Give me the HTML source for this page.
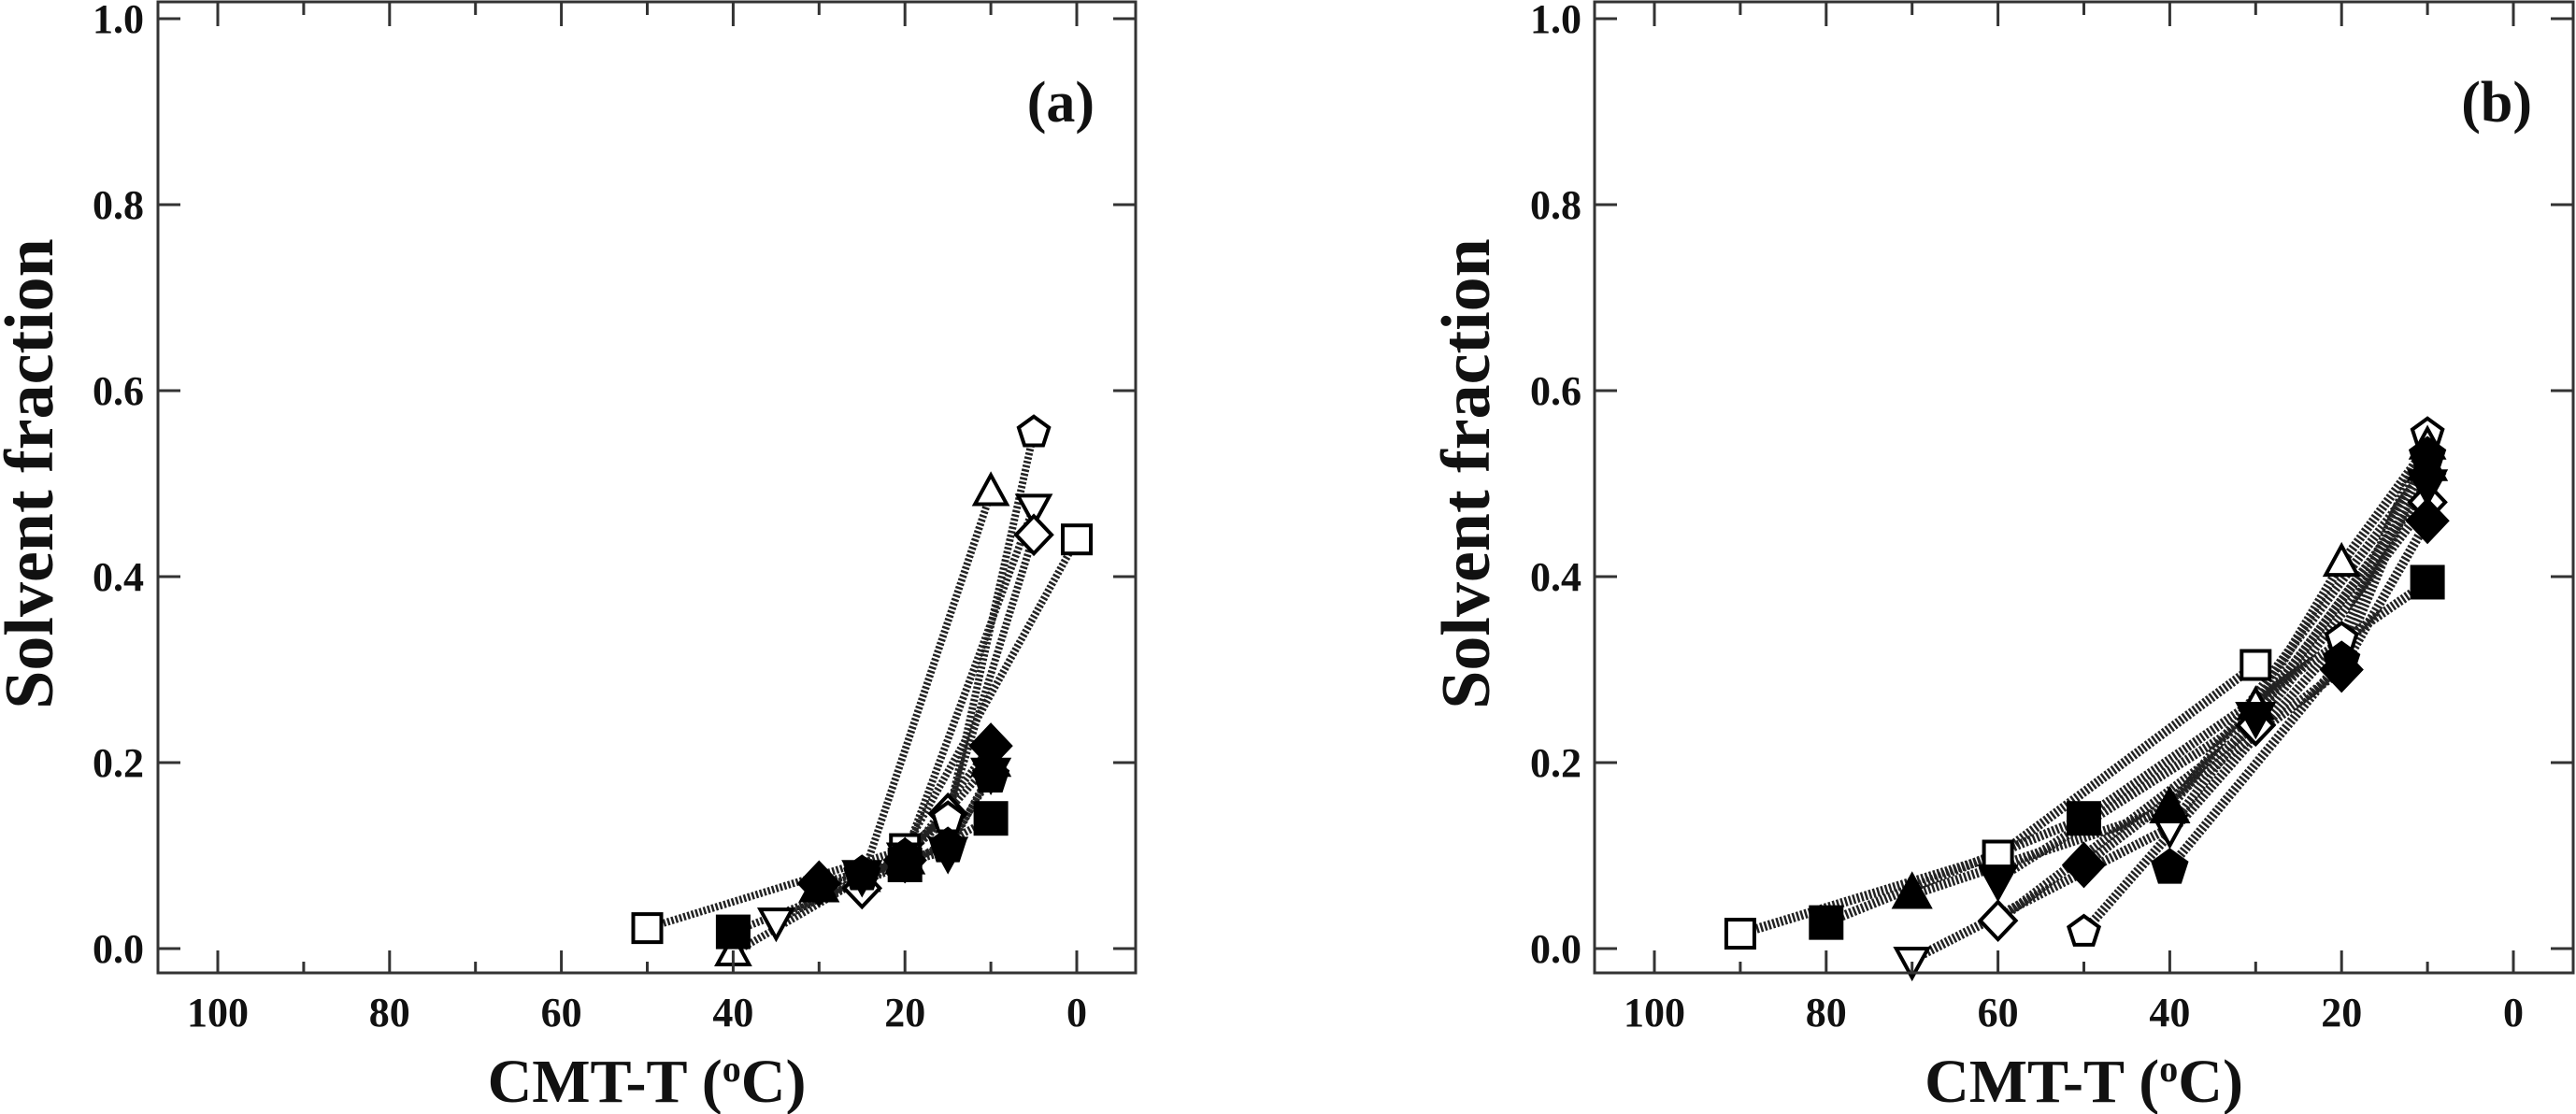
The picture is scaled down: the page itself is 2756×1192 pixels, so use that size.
<!DOCTYPE html>
<html><head><meta charset="utf-8"><style>
html,body{margin:0;padding:0;background:#fff;}
svg{display:block;}
text{font-family:"Liberation Serif",serif;font-weight:bold;fill:#111;}
</style></head>
<body>
<svg id="chart" width="2756" height="1192" viewBox="0 0 2756 1192" xmlns="http://www.w3.org/2000/svg"></svg>
<script>
// ---- data ----
const xTicks = [100, 80, 60, 40, 20, 0];
const xMinorTicks = [90, 70, 50, 30, 10];
const yTicks = [0.0, 0.2, 0.4, 0.6, 0.8, 1.0];
const yTickLabels = ["0.0", "0.2", "0.4", "0.6", "0.8", "1.0"];

// panel (a)
const aOpenSquareX = [50, 20, 0];        const aOpenSquareY = [0.022, 0.107, 0.44];
const aFilledSquareX = [40, 20, 10];     const aFilledSquareY = [0.018, 0.09, 0.14];
const aOpenTriUpX = [40, 25, 10];        const aOpenTriUpY = [-0.005, 0.075, 0.49];
const aFilledTriUpX = [30, 20, 10];      const aFilledTriUpY = [0.065, 0.095, 0.2];
const aOpenTriDownX = [35, 20, 5];       const aOpenTriDownY = [0.03, 0.1, 0.475];
const aFilledTriDownX = [25, 15, 10];    const aFilledTriDownY = [0.08, 0.105, 0.19];
const aOpenDiamondX = [25, 15, 5];       const aOpenDiamondY = [0.065, 0.145, 0.445];
const aFilledDiamondX = [30, 20, 10];    const aFilledDiamondY = [0.07, 0.095, 0.218];
const aOpenPentagonX = [20, 15, 5];      const aOpenPentagonY = [0.1, 0.14, 0.555];
const aFilledPentagonX = [25, 15, 10];   const aFilledPentagonY = [0.08, 0.11, 0.185];

// panel (b)
const bOpenSquareX = [90, 60, 30];       const bOpenSquareY = [0.016, 0.10, 0.305];
const bFilledSquareX = [80, 50, 10];     const bFilledSquareY = [0.028, 0.14, 0.394];
const bFilledTriUpX = [70, 40, 10];      const bFilledTriUpY = [0.058, 0.15, 0.518];
const bOpenTriDownX = [70, 40, 10];      const bOpenTriDownY = [-0.012, 0.13, 0.497];
const bFilledTriDownX = [60, 30, 10];    const bFilledTriDownY = [0.075, 0.25, 0.50];
const bOpenDiamondX = [60, 30, 10];      const bOpenDiamondY = [0.03, 0.24, 0.48];
const bFilledDiamondX = [50, 20, 10];    const bFilledDiamondY = [0.09, 0.30, 0.46];
const bOpenPentagonX = [50, 20, 10];     const bOpenPentagonY = [0.018, 0.333, 0.553];
const bFilledPentagonX = [40, 20, 10];   const bFilledPentagonY = [0.087, 0.31, 0.53];
const bOpenTriUpX = [30, 20, 10];        const bOpenTriUpY = [0.26, 0.414, 0.54];

const NS = "http://www.w3.org/2000/svg";
const svg = document.getElementById("chart");
function mk(tag, attrs, parent) {
  const e = document.createElementNS(NS, tag);
  for (const k in attrs) e.setAttribute(k, attrs[k]);
  (parent || svg).appendChild(e);
  return e;
}

function panel(cfg) {
  const g = mk("g", {});
  
  
  const L = cfg.left, R = cfg.right, T = 2, B = 1041;
  const xs = v => cfg.x0 - v * 9.19;
  const ys = v => 1015 - v * 995;

  const lineGroup = mk("g", {}, g);
  
  
  cfg.series.forEach(s => {
    const pts = s.x.map((v, i) => xs(v) + "," + ys(s.y[i])).join(" ");
    const pl = mk("polyline", {points: pts, fill: "none", stroke: "#222", "stroke-width": cfg.lw, "stroke-dasharray": "2.5 2"}, lineGroup);
    
    
  });
  const order = cfg.series.filter(s => !s.filled).concat(cfg.series.filter(s => s.filled));
  order.forEach(s => {
    s.x.forEach((v, i) => {
      const cx = xs(v), cy = ys(s.y[i]);
      const fill = s.filled ? "#000" : "#fff";
      const st = {fill: fill, stroke: "#000", "stroke-width": 4};
      let m;
      const f = s.filled ? 1.1 : 1.0;
      const r = 15 * f;
      if (s.shape === "square") {
        m = mk("rect", Object.assign({x: cx - r, y: cy - r, width: 2*r, height: 2*r}, st), g);
      } else {
        let p;
        if (s.shape === "triup") p = [[0,-19],[17,12],[-17,12]];
        else if (s.shape === "tridown") p = [[0,19],[17,-12],[-17,-12]];
        else if (s.shape === "diamond") p = [[0,-20],[19,0],[0,20],[-19,0]];
        else { p = []; for (let k = 0; k < 5; k++) { const a = -Math.PI/2 + k*2*Math.PI/5; p.push([17*Math.cos(a), 17*Math.sin(a)]); } }
        m = mk("polygon", Object.assign({points: p.map(q => (cx+q[0]*f) + "," + (cy+q[1]*f)).join(" ")}, st), g);
      }
      
      
    });
  });

  const fr = mk("rect", {x: L, y: T, width: R - L, height: B - T, fill: "none", stroke: "#333", "stroke-width": 3}, g);
  
  

  xTicks.forEach(v => {
    const x = xs(v);
    mk("line", {x1: x, y1: B, x2: x, y2: B - 24, stroke: "#333", "stroke-width": 3}, g);
    mk("line", {x1: x, y1: T, x2: x, y2: T + 26, stroke: "#333", "stroke-width": 3}, g);
    const t = mk("text", {x: x, y: 1098, "font-size": 44, "text-anchor": "middle"}, g);
    t.textContent = String(v);
    
    
  });
  xMinorTicks.forEach(v => {
    const x = xs(v);
    mk("line", {x1: x, y1: B, x2: x, y2: B - 12, stroke: "#333", "stroke-width": 3}, g);
    mk("line", {x1: x, y1: T, x2: x, y2: T + 14, stroke: "#333", "stroke-width": 3}, g);
  });
  yTicks.forEach((v, i) => {
    const y = ys(v);
    mk("line", {x1: L, y1: y, x2: L + 24, y2: y, stroke: "#333", "stroke-width": 3}, g);
    mk("line", {x1: R, y1: y, x2: R - 24, y2: y, stroke: "#333", "stroke-width": 3}, g);
    const t = mk("text", {x: cfg.ylabelRight, y: y + 15, "font-size": 44, "text-anchor": "end"}, g);
    t.textContent = yTickLabels[i];
    
    
  });

  const xt = mk("text", {x: (L + R) / 2, y: 1179, "font-size": 66, "text-anchor": "middle"}, g);
  xt.innerHTML = 'CMT-T (<tspan font-size="40" dy="-22">o</tspan><tspan dy="22">C)</tspan>';
  
  
  const yt = mk("text", {x: 0, y: 0, "font-size": 74, "text-anchor": "middle", transform: "translate(" + cfg.ytitleX + ",507) rotate(-90)"}, g);
  yt.textContent = "Solvent fraction";
  
  
  const pl = mk("text", {x: R - 44, y: 130, "font-size": 62, "text-anchor": "end"}, g);
  pl.textContent = cfg.label;
  
  
}

panel({name: "panel-a", left: 169, right: 1215, x0: 1152, lw: 8, ylabelRight: 154, ytitleX: 56, label: "(a)",
  series: [
    {name: "a-open-square", shape: "square", filled: false, x: aOpenSquareX, y: aOpenSquareY},
    {name: "a-filled-square", shape: "square", filled: true, x: aFilledSquareX, y: aFilledSquareY},
    {name: "a-open-triangle-up", shape: "triup", filled: false, x: aOpenTriUpX, y: aOpenTriUpY},
    {name: "a-filled-triangle-up", shape: "triup", filled: true, x: aFilledTriUpX, y: aFilledTriUpY},
    {name: "a-open-triangle-down", shape: "tridown", filled: false, x: aOpenTriDownX, y: aOpenTriDownY},
    {name: "a-filled-triangle-down", shape: "tridown", filled: true, x: aFilledTriDownX, y: aFilledTriDownY},
    {name: "a-open-diamond", shape: "diamond", filled: false, x: aOpenDiamondX, y: aOpenDiamondY},
    {name: "a-filled-diamond", shape: "diamond", filled: true, x: aFilledDiamondX, y: aFilledDiamondY},
    {name: "a-open-pentagon", shape: "pentagon", filled: false, x: aOpenPentagonX, y: aOpenPentagonY},
    {name: "a-filled-pentagon", shape: "pentagon", filled: true, x: aFilledPentagonX, y: aFilledPentagonY}
  ]});
panel({name: "panel-b", left: 1706, right: 2753, x0: 2689, lw: 10, ylabelRight: 1692, ytitleX: 1593, label: "(b)",
  series: [
    {name: "b-open-square", shape: "square", filled: false, x: bOpenSquareX, y: bOpenSquareY},
    {name: "b-filled-square", shape: "square", filled: true, x: bFilledSquareX, y: bFilledSquareY},
    {name: "b-filled-triangle-up", shape: "triup", filled: true, x: bFilledTriUpX, y: bFilledTriUpY},
    {name: "b-open-triangle-down", shape: "tridown", filled: false, x: bOpenTriDownX, y: bOpenTriDownY},
    {name: "b-filled-triangle-down", shape: "tridown", filled: true, x: bFilledTriDownX, y: bFilledTriDownY},
    {name: "b-open-diamond", shape: "diamond", filled: false, x: bOpenDiamondX, y: bOpenDiamondY},
    {name: "b-filled-diamond", shape: "diamond", filled: true, x: bFilledDiamondX, y: bFilledDiamondY},
    {name: "b-open-pentagon", shape: "pentagon", filled: false, x: bOpenPentagonX, y: bOpenPentagonY},
    {name: "b-filled-pentagon", shape: "pentagon", filled: true, x: bFilledPentagonX, y: bFilledPentagonY},
    {name: "b-open-triangle-up", shape: "triup", filled: false, x: bOpenTriUpX, y: bOpenTriUpY}
  ]});
</script>
</body></html>
